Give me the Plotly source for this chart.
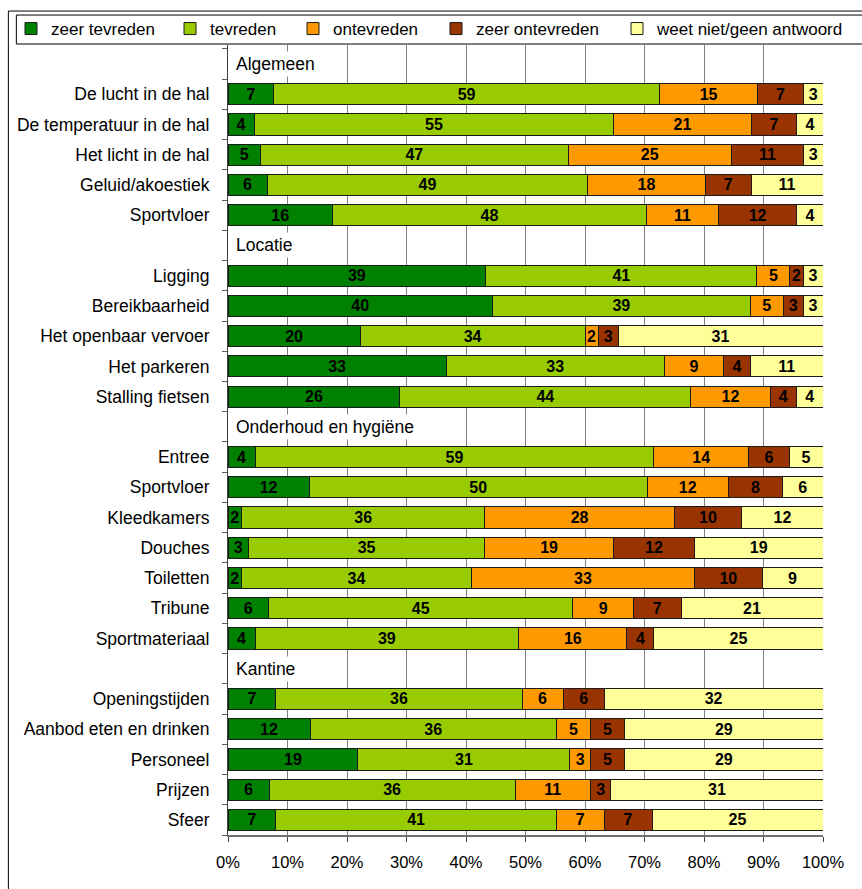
import plotly.graph_objects as go

# ---- data ----
sections = ["Algemeen", "Locatie", "Onderhoud en hygiëne", "Kantine"]
items_algemeen = ["De lucht in de hal", "De temperatuur in de hal", "Het licht in de hal",
                  "Geluid/akoestiek", "Sportvloer"]
items_locatie = ["Ligging", "Bereikbaarheid", "Het openbaar vervoer", "Het parkeren",
                 "Stalling fietsen"]
items_onderhoud = ["Entree", "Sportvloer", "Kleedkamers", "Douches", "Toiletten",
                   "Tribune", "Sportmateriaal"]
items_kantine = ["Openingstijden", "Aanbod eten en drinken", "Personeel", "Prijzen", "Sfeer"]

series_names = ["zeer tevreden", "tevreden", "ontevreden", "zeer ontevreden",
                "weet niet/geen antwoord"]
zeer_tevreden = [7, 4, 5, 6, 16, 39, 40, 20, 33, 26, 4, 12, 2, 3, 2, 6, 4, 7, 12, 19, 6, 7]
tevreden = [59, 55, 47, 49, 48, 41, 39, 34, 33, 44, 59, 50, 36, 35, 34, 45, 39, 36, 36, 31, 36, 41]
ontevreden = [15, 21, 25, 18, 11, 5, 5, 2, 9, 12, 14, 12, 28, 19, 33, 9, 16, 6, 5, 3, 11, 7]
zeer_ontevreden = [7, 7, 11, 7, 12, 2, 3, 3, 4, 4, 6, 8, 10, 12, 10, 7, 4, 6, 5, 5, 3, 7]
weet_niet = [3, 4, 3, 11, 4, 3, 3, 31, 11, 4, 5, 6, 12, 19, 9, 21, 25, 32, 29, 29, 31, 25]

x_tickvals = [0, 10, 20, 30, 40, 50, 60, 70, 80, 90, 100]
x_ticktext = ["0%", "10%", "20%", "30%", "40%", "50%", "60%", "70%", "80%", "90%", "100%"]

colors = ["#008000", "#99CC00", "#FF9900", "#993300", "#FFFF99"]

# ---- build row layout (headers + items) ----
groups = [items_algemeen, items_locatie, items_onderhoud, items_kantine]
header_rows = []
item_rows = []
item_labels = []
r = 0
for sec, items in zip(sections, groups):
    header_rows.append((r, sec))
    r += 1
    for it in items:
        item_rows.append(r)
        item_labels.append(it)
        r += 1
n_rows = r

all_series = [zeer_tevreden, tevreden, ontevreden, zeer_ontevreden, weet_niet]

W, H = 862, 889
L, R, T, B = 227, 39, 44, 54
pw, ph = W - L - R, H - T - B


def px(xp):
    return (xp - L) / pw


def py(yp):
    return (H - B - yp) / ph


legend_ids = ["legend", "legend2", "legend3", "legend4", "legend5"]
legend_text_x = [51, 210, 333, 476, 657]

FONT = "Liberation Sans, Arial, Helvetica, sans-serif"

fig = go.Figure()
for name, vals, col, lid in zip(series_names, all_series, colors, legend_ids):
    fig.add_trace(go.Bar(
        name=name, orientation="h", x=vals, y=item_rows, legend=lid,
        text=[str(v) for v in vals], textposition="inside",
        insidetextanchor="middle", textangle=0,
        textfont=dict(family=FONT, size=16, color="black", weight="bold"),
        marker=dict(color=col, line=dict(color="#1a1a1a", width=1)),
    ))

for row, sec in header_rows:
    fig.add_annotation(x=0, xref="paper", y=row, yref="y", text=sec,
                       xanchor="left", xshift=5, showarrow=False,
                       bgcolor="white", borderpad=2,
                       font=dict(family=FONT, size=17.5, color="black"))

# outer frame and legend box
fig.add_shape(type="rect", xref="paper", yref="paper",
              x0=px(7), x1=px(880), y0=py(900), y1=py(10),
              line=dict(color="black", width=1), fillcolor="rgba(0,0,0,0)", layer="above")
fig.add_shape(type="rect", xref="paper", yref="paper",
              x0=px(15), x1=px(880), y0=py(43), y1=py(14),
              line=dict(color="black", width=1), fillcolor="rgba(0,0,0,0)", layer="above")

legend_layout = {}
for lid, tx in zip(legend_ids, legend_text_x):
    legend_layout[lid] = dict(
        orientation="h", x=px(tx - 40), xanchor="left", y=py(29), yanchor="middle",
        font=dict(family=FONT, size=17, color="black"),
        bgcolor="rgba(0,0,0,0)", borderwidth=0)

fig.update_layout(
    width=W, height=H,
    margin=dict(l=L, r=R, t=T, b=B, pad=0),
    barmode="stack", barnorm="percent", bargap=0.3,
    plot_bgcolor="white", paper_bgcolor="white",
    uniformtext=dict(minsize=16, mode="show"),
    showlegend=True,
    font=dict(family=FONT, size=16, color="black"),
    **legend_layout,
)

fig.update_xaxes(range=[0, 100], tickmode="array", tickvals=x_tickvals, ticktext=x_ticktext,
                 showgrid=True, gridcolor="#808080", gridwidth=1,
                 showline=True, linecolor="#707070", linewidth=2,
                 ticks="outside", ticklen=5, tickcolor="#404040",
                 tickfont=dict(family=FONT, size=16.5, color="black"),
                 ticklabelstandoff=6,
                 zeroline=False, fixedrange=True)
fig.update_yaxes(range=[n_rows - 0.5, -0.63], tickmode="array",
                 tickvals=item_rows, ticktext=item_labels, ticks="",
                 showline=True, linecolor="#404040", linewidth=1,
                 showgrid=False, zeroline=False, ticklabelstandoff=14,
                 minor=dict(tickmode="linear", tick0=0.5, dtick=1, ticks="outside",
                            ticklen=5, tickcolor="#606060", showgrid=False),
                 tickfont=dict(family=FONT, size=17.5, color="black"),
                 fixedrange=True)

fig.write_html("out.html", config={"displayModeBar": False},
               post_script="document.body.style.margin='0';document.body.style.overflow='hidden';")
